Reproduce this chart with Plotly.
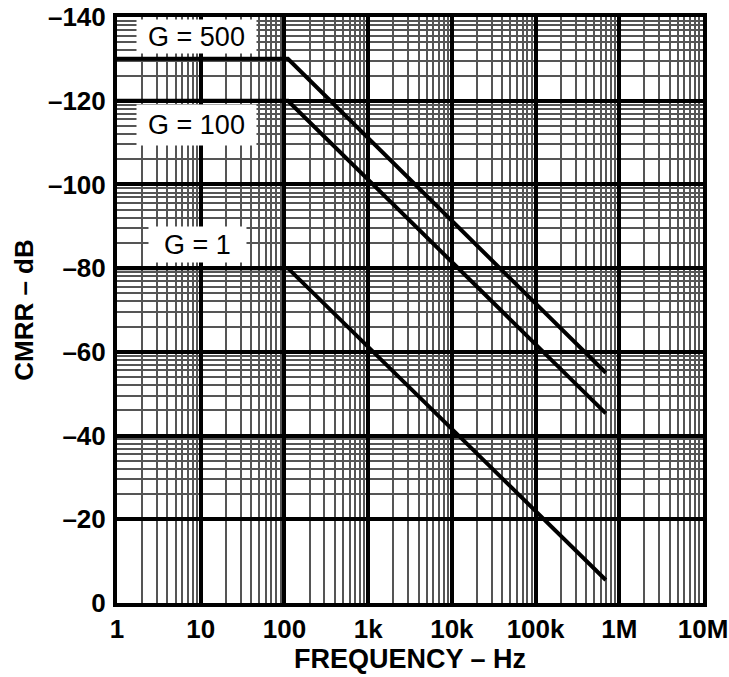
import plotly.graph_objects as go
import numpy as np

# ---- data ----
freq_hz = [1, 110, 690000]
cmrr_g500 = [-130, -130, -55]
cmrr_g100 = [-120, -120, -45.3]
cmrr_g1 = [-80, -80, -5.5]

x_tickvals = [1, 10, 100, 1e3, 1e4, 1e5, 1e6, 1e7]
x_ticktext = ["1", "10", "100", "1k", "10k", "100k", "1M", "10M"]
y_tickvals = [0, -20, -40, -60, -80, -100, -120, -140]
y_ticktext = ["0", "–20", "–40", "–60", "–80", "–100", "–120", "–140"]

labels = ["G = 500", "G = 100", "G = 1"]

# minor grid positions (log-paper style on both axes)
x_minor = [m * 10 ** k for k in range(7) for m in range(2, 10)]
y_minor = [-20 * k - 20 * np.log10(m) for k in range(1, 8) for m in range(2, 10)]

FONT = "Liberation Sans, Arial, Helvetica, sans-serif"

fig = go.Figure()
for ys in (cmrr_g500, cmrr_g100, cmrr_g1):
    fig.add_trace(go.Scatter(x=freq_hz, y=ys, mode="lines",
                             line=dict(color="black", width=4),
                             showlegend=False, hoverinfo="skip"))

fig.update_layout(
    width=729, height=677,
    margin=dict(l=117, r=26, t=17, b=74),
    paper_bgcolor="white", plot_bgcolor="white",
    font=dict(family=FONT, color="black"),
    xaxis=dict(
        type="log", range=[0, 7], automargin=False,
        tickmode="array", tickvals=x_tickvals, ticktext=x_ticktext,
        ticks="", ticklabelstandoff=0,
        tickfont=dict(size=26, family=FONT, weight="bold"),
        showgrid=True, gridcolor="black", gridwidth=4,
        minor=dict(tickmode="array", tickvals=x_minor, showgrid=True,
                   gridcolor="#555555", gridwidth=2, ticks=""),
        showline=True, linecolor="black", linewidth=4, mirror=True,
        zeroline=False,
        title=dict(text="FREQUENCY – Hz", standoff=6,
                   font=dict(size=27, family=FONT, weight="bold")),
    ),
    yaxis=dict(
        range=[0, -140], automargin=False,
        tickmode="array", tickvals=y_tickvals, ticktext=y_ticktext,
        ticks="", ticklabelstandoff=2,
        tickfont=dict(size=26, family=FONT, weight="bold"),
        showgrid=True, gridcolor="black", gridwidth=4,
        minor=dict(tickmode="array", tickvals=y_minor, showgrid=True,
                   gridcolor="#555555", gridwidth=2, ticks=""),
        showline=True, linecolor="black", linewidth=4, mirror=True,
        zeroline=False,
        title=dict(text="CMRR – dB", standoff=8,
                   font=dict(size=26, family=FONT, weight="bold")),
    ),
)

ann_pos = [(0.1365, 0.966, 119, 33), (0.1365, 0.816, 119, 40), (0.138, 0.611, 97, 35)]
for txt, (ax_, ay_, w, h) in zip(labels, ann_pos):
    fig.add_annotation(text=txt, xref="paper", yref="paper", x=ax_, y=ay_,
                       xanchor="center", yanchor="middle", showarrow=False,
                       width=w, height=h, bgcolor="white", borderpad=0,
                       font=dict(size=27, family=FONT, color="black"))

fig.write_html("out.html")
